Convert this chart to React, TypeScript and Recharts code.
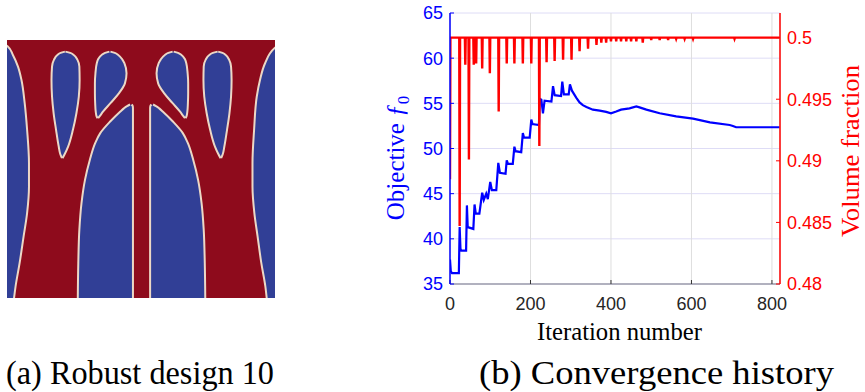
import React from 'react';
import { ComposedChart, Line, Area, XAxis, YAxis, CartesianGrid } from 'recharts';

// ---------- convergence history data ----------
const iterTicks = [0, 200, 400, 600, 800];
const objTicks = [35, 40, 45, 50, 55, 60, 65];
const volTicks = [0.48, 0.485, 0.49, 0.495, 0.5];

const objIter = [0, 2, 5, 22, 24, 26, 28, 40, 42, 44, 58, 61, 64, 73, 80, 84, 90, 94, 100, 104, 115, 120, 124, 138, 141, 144, 156, 160, 163, 177, 181, 184, 198, 202, 205, 221, 223, 227, 231, 235, 252, 256, 260, 276, 279, 283, 295, 298, 303, 314, 322, 330, 339, 355, 372, 388, 400, 413, 425, 446, 463, 471, 488, 521, 562, 604, 646, 695, 703, 711, 819];
const objValue = [37.7, 36.4, 36.2, 36.2, 41.3, 38.9, 38.7, 38.7, 43.7, 41.3, 41.1, 43.8, 42.8, 42.8, 45.1, 44.3, 45.0, 44.4, 46.3, 45.4, 45.4, 48.4, 47.3, 47.2, 48.7, 48.3, 48.3, 50.2, 49.7, 49.6, 51.7, 51.2, 51.2, 53.2, 52.7, 52.6, 55.5, 55.4, 53.9, 55.3, 55.2, 56.9, 55.9, 55.8, 57.4, 56.0, 56.0, 57.1, 56.4, 55.6, 55.1, 54.8, 54.6, 54.3, 54.2, 54.05, 53.9, 54.1, 54.3, 54.45, 54.65, 54.55, 54.3, 53.9, 53.55, 53.3, 52.9, 52.6, 52.5, 52.35, 52.35];

const volIter = [0, 1, 23, 24, 25, 37, 38, 39, 46, 47, 48, 58, 59, 60, 64, 65, 66, 79, 80, 81, 98, 99, 100, 120, 121, 122, 140, 141, 142, 159, 160, 161, 180, 181, 182, 201, 202, 203, 221, 222, 223, 239, 240, 241, 259, 260, 261, 280, 281, 282, 301, 302, 303, 321, 322, 323, 342, 343, 344, 363, 364, 365, 375, 376, 377, 387, 388, 389, 399, 400, 401, 412, 413, 414, 424, 425, 426, 437, 438, 439, 449, 450, 451, 462, 463, 464, 478, 479, 480, 499, 500, 501, 520, 521, 522, 541, 542, 543, 561, 562, 563, 582, 583, 584, 603, 604, 605, 706, 707, 708, 819];
const volValue = [0.4885, 0.5, 0.5, 0.4847, 0.5, 0.5, 0.4978, 0.5, 0.5, 0.4901, 0.5, 0.5, 0.4978, 0.5, 0.5, 0.4979, 0.5, 0.5, 0.4975, 0.5, 0.5, 0.4971, 0.5, 0.5, 0.494, 0.5, 0.5, 0.4979, 0.5, 0.5, 0.4979, 0.5, 0.5, 0.4979, 0.5, 0.5, 0.4979, 0.5, 0.5, 0.4912, 0.5, 0.5, 0.498, 0.5, 0.5, 0.4981, 0.5, 0.5, 0.4982, 0.5, 0.5, 0.4982, 0.5, 0.5, 0.4989, 0.5, 0.5, 0.4991, 0.5, 0.5, 0.4994, 0.5, 0.5, 0.4996, 0.5, 0.5, 0.4996, 0.5, 0.5, 0.4997, 0.5, 0.5, 0.4997, 0.5, 0.5, 0.4997, 0.5, 0.5, 0.4997, 0.5, 0.5, 0.4997, 0.5, 0.5, 0.4997, 0.5, 0.5, 0.4996, 0.5, 0.5, 0.4998, 0.5, 0.5, 0.4998, 0.5, 0.5, 0.4998, 0.5, 0.5, 0.4999, 0.5, 0.5, 0.4999, 0.5, 0.5, 0.4999, 0.5, 0.5, 0.4999, 0.5, 0.5];

// ---------- topology (robust design) regions: [v, uLow, uHigh] in 0..100 units, v from top ----------
const edgeLeftRows = [[1.5, -3, -2], [2.5, -3, 0.3], [5.8, -3, 2.2], [10.3, -3, 4.1], [15.5, -3, 5.4], [24.5, -3, 6.6], [34.8, -3, 7.5], [47.7, -3, 8.2], [56.8, -3, 8.2], [67.1, -3, 7.5], [76.1, -3, 6.2], [86.5, -3, 4.7], [95.5, -3, 3.2], [102, -3, 2.4]];
const edgeRightRows = [[1.5, 102, 103], [3.2, 99.8, 103], [9.0, 96.3, 103], [15.5, 94.4, 103], [21.9, 93.2, 103], [34.8, 92.2, 103], [47.7, 91.6, 103], [56.8, 91.6, 103], [67.1, 92.3, 103], [76.1, 93.5, 103], [86.5, 94.9, 103], [95.5, 96.4, 103], [102, 97.1, 103]];
const hole1Rows = [[4.5, 21.6, 21.8], [5.0, 20.0, 23.6], [5.8, 18.8, 24.9], [7.7, 17.5, 26.3], [10.3, 16.8, 27.0], [15.5, 16.6, 27.1], [21.9, 16.8, 26.8], [28.4, 17.4, 25.9], [34.8, 18.3, 24.6], [41.3, 19.3, 22.8], [44.3, 19.9, 21.5], [45.8, 20.5, 20.7]];
const hole2Rows = [[4.5, 38.2, 38.6], [5.0, 36.6, 40.2], [5.8, 35.3, 41.5], [7.5, 34.0, 43.0], [9.0, 33.5, 43.8], [12.9, 33.0, 44.6], [16.8, 32.8, 44.0], [20.6, 32.8, 41.8], [24.5, 32.9, 38.6], [27.7, 33.1, 35.9], [29.5, 33.4, 34.6], [30.3, 33.8, 34.0]];
const hole3Rows = [[4.5, 61.8, 62.2], [5.0, 60.2, 63.8], [5.8, 58.9, 65.1], [7.5, 57.4, 66.4], [9.0, 56.6, 66.9], [12.9, 55.8, 67.4], [16.8, 56.4, 67.6], [20.6, 58.6, 67.6], [24.5, 61.8, 67.5], [27.7, 64.5, 67.3], [29.5, 65.8, 67.0], [30.3, 66.4, 66.6]];
const hole4Rows = [[4.5, 78.6, 78.8], [5.0, 76.8, 80.4], [5.8, 75.5, 81.6], [7.7, 74.1, 82.9], [10.3, 73.4, 83.6], [15.5, 73.3, 83.8], [21.9, 73.6, 83.6], [28.4, 74.5, 83.0], [34.8, 75.8, 82.1], [41.3, 77.6, 81.1], [44.3, 78.9, 80.5], [45.8, 79.7, 79.9]];
const lowerLeftRows = [[25.0, 45.9, 46.5], [25.6, 44.8, 46.9], [26.5, 43.6, 47.0], [27.7, 42.3, 47.0], [31.6, 38.5, 47.0], [36.1, 34.8, 47.0], [40.0, 32.9, 47.0], [46.5, 30.9, 47.0], [54.2, 29.1, 47.0], [63.2, 27.8, 47.0], [73.5, 27.0, 47.0], [86.5, 26.6, 47.0], [102, 26.4, 47.0]];
const lowerRightRows = [[25.0, 53.9, 54.5], [25.6, 53.5, 55.6], [26.5, 53.4, 56.8], [27.7, 53.4, 58.1], [31.6, 53.4, 61.9], [36.1, 53.4, 65.6], [40.0, 53.4, 67.5], [46.5, 53.4, 69.5], [54.2, 53.4, 71.3], [63.2, 53.4, 72.6], [73.5, 53.4, 73.4], [86.5, 53.4, 73.8], [102, 53.4, 74.0]];

const regions = [edgeLeftRows, edgeRightRows, hole1Rows, hole2Rows, hole3Rows, hole4Rows, lowerLeftRows, lowerRightRows];

const RED = '#8e0b1c';
const BLUE = '#313f96';
const EDGE = '#ecd8c6';

const objData = objIter.map((iter, i) => ({ iter, obj: objValue[i] }));
const volData = volIter.map((iter, i) => ({ iter, vol: volValue[i] }));

const sansFont = '"Liberation Sans", Arial, Helvetica, sans-serif';
const serifFont = '"Liberation Serif", "Times New Roman", Times, serif';

function Topology() {
  return (
    <div style={{ position: 'absolute', left: 7, top: 40, width: 268, height: 258, background: RED }}>
      <ComposedChart layout="vertical" width={268} height={258} margin={{ top: 0, right: 0, bottom: 0, left: 0 }}>
        <XAxis type="number" domain={[0, 100]} allowDataOverflow hide />
        <YAxis type="number" dataKey="v" domain={[0, 100]} allowDataOverflow hide />
        {regions.map((rows, k) => (
          <Area
            key={k}
            data={rows.map(([v, lo, hi]) => ({ v, r: [lo, hi] }))}
            dataKey="r"
            type="monotone"
            fill={BLUE}
            fillOpacity={1}
            stroke={EDGE}
            strokeWidth={2}
            dot={false}
            activeDot={false}
            isAnimationActive={false}
          />
        ))}
      </ComposedChart>
    </div>
  );
}

export default function App() {
  return (
    <div style={{ position: 'absolute', left: 0, top: 0, width: 865, height: 392, background: '#fff' }}>
      <div style={{ position: 'absolute', left: 0, top: 0 }}>
        <ComposedChart width={865} height={392} margin={{ top: 13, right: 0, bottom: 0, left: 0 }}>
          <CartesianGrid xAxisId="b" yAxisId="left" vertical={false} stroke="#dedcf6" strokeWidth={1} />
          <CartesianGrid xAxisId="b" yAxisId="left" horizontal={false} stroke="#dedede" strokeWidth={1} />
          <XAxis
            xAxisId="b"
            type="number"
            dataKey="iter"
            domain={[0, 820]}
            ticks={iterTicks}
            interval={0}
            allowDataOverflow
            height={108}
            tickSize={-4}
            tickMargin={17}
            axisLine={{ stroke: '#9c9cab', strokeWidth: 1.5 }}
            tickLine={{ stroke: '#333' }}
            tick={{ fill: '#262626', fontSize: 18, fontFamily: sansFont }}
          />
          <XAxis
            xAxisId="t"
            orientation="top"
            type="number"
            dataKey="iter"
            domain={[0, 820]}
            ticks={iterTicks}
            interval={0}
            height={0}
            tickSize={-4}
            tickFormatter={() => ''}
            axisLine={{ stroke: '#666' }}
            tickLine={{ stroke: '#444' }}
          />
          <YAxis
            yAxisId="left"
            orientation="left"
            type="number"
            domain={[35, 65]}
            ticks={objTicks}
            interval={0}
            allowDataOverflow
            width={450}
            tickSize={-4}
            tickMargin={11}
            axisLine={{ stroke: '#0000ff', strokeWidth: 1.5 }}
            tickLine={{ stroke: '#0000ff' }}
            tick={{ fill: '#0000ff', fontSize: 18, fontFamily: sansFont }}
          />
          <YAxis
            yAxisId="right"
            orientation="right"
            type="number"
            domain={[0.48, 0.502]}
            ticks={volTicks}
            interval={0}
            allowDataOverflow
            width={85}
            tickSize={-4}
            tickMargin={11}
            tickFormatter={(v: number) => String(v)}
            axisLine={{ stroke: '#ff0000', strokeWidth: 1.5 }}
            tickLine={{ stroke: '#ff0000' }}
            tick={{ fill: '#ff0000', fontSize: 18, fontFamily: sansFont }}
          />
          <Line
            xAxisId="b"
            yAxisId="left"
            data={objData}
            dataKey="obj"
            type="linear"
            stroke="#0000ff"
            strokeWidth={2.2}
            dot={false}
            activeDot={false}
            isAnimationActive={false}
          />
          <Line
            xAxisId="b"
            yAxisId="right"
            data={volData}
            dataKey="vol"
            type="linear"
            stroke="#ff0000"
            strokeWidth={2.4}
            dot={false}
            activeDot={false}
            isAnimationActive={false}
          />
        </ComposedChart>
      </div>
      <Topology />
      <svg width={865} height={392} style={{ position: 'absolute', left: 0, top: 0, pointerEvents: 'none' }}>
        <text x={619.5} y={340} textAnchor="middle" fontFamily={serifFont} fontSize={25} fill="#000" textLength={165} lengthAdjust="spacingAndGlyphs">
          Iteration number
        </text>
        <text transform="translate(404,158) rotate(-90)" textAnchor="middle" fontFamily={serifFont} fontSize={25} fill="#0000ff">
          Objective <tspan fontStyle="italic">ƒ</tspan><tspan dy={5} fontSize={17}>0</tspan>
        </text>
        <text transform="translate(859,151) rotate(-90)" textAnchor="middle" fontFamily={serifFont} fontSize={26} fill="#ff0000" textLength={172} lengthAdjust="spacingAndGlyphs">
          Volume fraction
        </text>
        <text x={6} y={384} fontFamily={serifFont} fontSize={34} fill="#000" textLength={268} lengthAdjust="spacingAndGlyphs">
          (a) Robust design 10
        </text>
        <text x={479} y={384} fontFamily={serifFont} fontSize={34} fill="#000" textLength={355} lengthAdjust="spacingAndGlyphs">
          (b) Convergence history
        </text>
      </svg>
    </div>
  );
}
